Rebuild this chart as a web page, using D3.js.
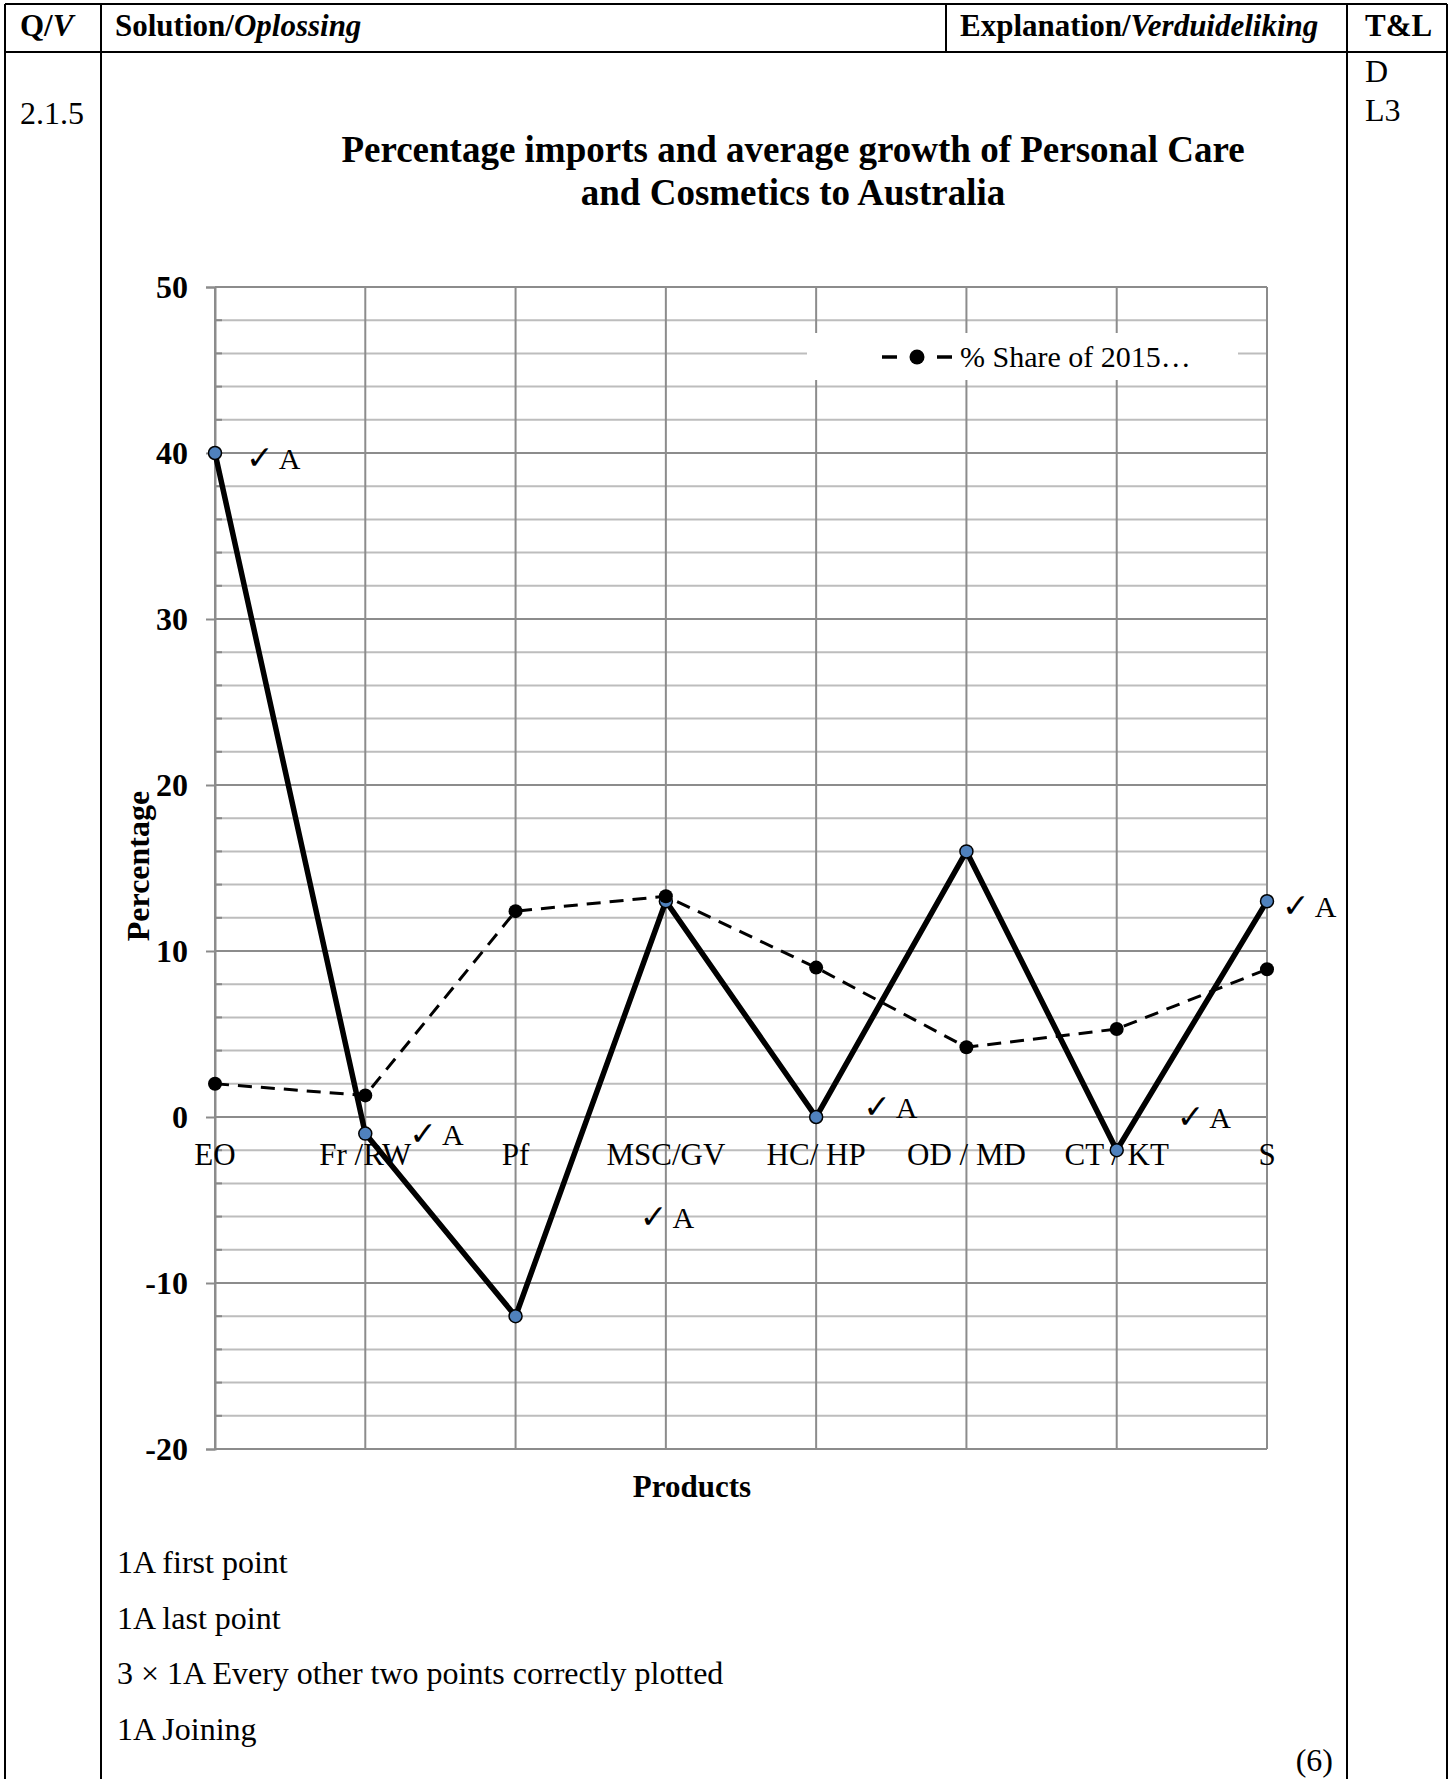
<!DOCTYPE html>
<html>
<head>
<meta charset="utf-8">
<script src="https://cdn.jsdelivr.net/npm/d3@7/dist/d3.min.js"></script>
<style>
  html, body { margin: 0; padding: 0; background: #fff; }
  svg { display: block; }
  text { font-family: "Liberation Serif", "Times New Roman", serif; fill: #000; }
</style>
</head>
<body>
<svg id="page" width="1455" height="1779"></svg>
<script>
// Product categories along the x axis
const categories = ["EO", "Fr /RW", "Pf", "MSC/GV", "HC/ HP", "OD / MD", "CT / KT", "S"];

// Average growth (%) — solid line with blue markers
const growth = [40, -1, -12, 13, 0, 16, -2, 13];

// % share of 2015 imports — dashed line with black markers
const share = [2, 1.3, 12.4, 13.3, 9, 4.2, 5.3, 8.9];

// Labelled y-axis values
const yTicks = [-20, -10, 0, 10, 20, 30, 40, 50];

// Marking ticks: category, value level, and which side of the point
const marks = [
  { cat: "EO", level: 39.7, shift: 31 },
  { cat: "Fr /RW", level: -1.0, shift: 44 },
  { cat: "MSC/GV", level: -6.0, shift: -26 },
  { cat: "HC/ HP", level: 0.6, shift: 47 },
  { cat: "CT / KT", level: 0.0, shift: 60 },
  { cat: "S", level: 12.7, shift: 15 }
];

// Marking memo lines under the graph
const memo = [
  "1A first point",
  "1A last point",
  "3 \u00d7 1A Every other two points correctly plotted",
  "1A Joining"
];

const svg = d3.select("#page");
const serif = '"Liberation Serif", "Times New Roman", serif';

// ---------- memo table frame ----------
const frame = svg.append("g").attr("stroke", "#000").attr("stroke-width", 2);
const tbl = { left: 5, right: 1447, top: 4, head: 52, c1: 101, c2: 946, c3: 1347, bottom: 1779 };
frame.append("line").attr("x1", tbl.left).attr("x2", tbl.right).attr("y1", tbl.top).attr("y2", tbl.top);
frame.append("line").attr("x1", tbl.left).attr("x2", tbl.right).attr("y1", tbl.head).attr("y2", tbl.head);
[tbl.left, tbl.c1, tbl.c3, tbl.right].forEach(x =>
  frame.append("line").attr("x1", x).attr("x2", x).attr("y1", tbl.top).attr("y2", tbl.bottom));
frame.append("line").attr("x1", tbl.c2).attr("x2", tbl.c2).attr("y1", tbl.top).attr("y2", tbl.head);

function header(x, parts) {
  const t = svg.append("text").attr("x", x).attr("y", 36)
    .attr("font-size", 31).attr("font-weight", "bold");
  parts.forEach(p => t.append("tspan").attr("font-style", p[1] ? "italic" : "normal").text(p[0]));
}
header(20, [["Q/", false], ["V", true]]);
header(115, [["Solution/", false], ["Oplossing", true]]);
header(960, [["Explanation/", false], ["Verduideliking", true]]);
header(1365, [["T&L", false]]);

svg.append("text").attr("x", 20).attr("y", 124).attr("font-size", 32).text("2.1.5");
svg.append("text").attr("x", 1365).attr("y", 82).attr("font-size", 32).text("D");
svg.append("text").attr("x", 1365).attr("y", 121).attr("font-size", 32).text("L3");

// ---------- chart title ----------
svg.append("text").attr("x", 793).attr("y", 162).attr("text-anchor", "middle")
  .attr("font-size", 37).attr("font-weight", "bold")
  .text("Percentage imports and average growth of Personal Care");
svg.append("text").attr("x", 793).attr("y", 205).attr("text-anchor", "middle")
  .attr("font-size", 37).attr("font-weight", "bold")
  .text("and Cosmetics to Australia");

// ---------- scales ----------
const plot = { left: 215, right: 1267, top: 287, bottom: 1449 };
const x = d3.scalePoint().domain(categories).range([plot.left, plot.right]);
const y = d3.scaleLinear().domain([-20, 50]).range([plot.bottom, plot.top]);

// ---------- gridlines ----------
const grid = svg.append("g");
const minor = d3.range(-20, 51, 2).filter(v => !yTicks.includes(v));
grid.selectAll("line.minor").data(minor).join("line")
  .attr("x1", plot.left).attr("x2", plot.right)
  .attr("y1", d => y(d)).attr("y2", d => y(d))
  .attr("stroke", "#bdbdbd").attr("stroke-width", 2);
grid.selectAll("line.mtick").data(minor).join("line")
  .attr("x1", plot.left).attr("x2", plot.left + 7)
  .attr("y1", d => y(d)).attr("y2", d => y(d))
  .attr("stroke", "#888").attr("stroke-width", 2);
grid.selectAll("line.vert").data(categories).join("line")
  .attr("x1", d => x(d)).attr("x2", d => x(d))
  .attr("y1", plot.top).attr("y2", plot.bottom)
  .attr("stroke", "#8c8c8c").attr("stroke-width", 2);
grid.selectAll("line.major").data(yTicks).join("line")
  .attr("x1", plot.left).attr("x2", plot.right)
  .attr("y1", d => y(d)).attr("y2", d => y(d))
  .attr("stroke", "#8c8c8c").attr("stroke-width", 2);

// y axis with bold labels and outward ticks (plain hyphen for negatives)
const yAxis = svg.append("g").attr("transform", `translate(${plot.left},0)`)
  .call(d3.axisLeft(y).tickValues(yTicks).tickSize(9).tickPadding(18).tickFormat(d => String(d)));
yAxis.select(".domain").attr("stroke", "#8c8c8c").attr("stroke-width", 2);
yAxis.selectAll(".tick line").attr("stroke", "#8c8c8c").attr("stroke-width", 2);
yAxis.selectAll(".tick text")
  .attr("font-family", serif).attr("font-size", 32).attr("font-weight", "bold").attr("fill", "#000");

// ---------- legend (white box over the grid) ----------
const lg = svg.append("g");
lg.append("rect").attr("x", 807).attr("y", 333).attr("width", 431).attr("height", 47).attr("fill", "#fff");
lg.append("line").attr("x1", 882).attr("x2", 897).attr("y1", 357).attr("y2", 357)
  .attr("stroke", "#000").attr("stroke-width", 3.5);
lg.append("line").attr("x1", 937).attr("x2", 952).attr("y1", 357).attr("y2", 357)
  .attr("stroke", "#000").attr("stroke-width", 3.5);
lg.append("circle").attr("cx", 917).attr("cy", 357).attr("r", 7.5).attr("fill", "#000");
lg.append("text").attr("x", 960).attr("y", 367).attr("font-size", 30).text("% Share of 2015\u2026");

// ---------- category labels (drawn over the grid) ----------
svg.append("g").selectAll("text").data(categories).join("text")
  .attr("x", d => x(d)).attr("y", y(0) + 48)
  .attr("text-anchor", "middle").attr("font-size", 31).text(d => d);

// ---------- series ----------
const line = d3.line().x((d, i) => x(categories[i])).y(d => y(d));

svg.append("path").datum(growth).attr("d", line)
  .attr("fill", "none").attr("stroke", "#000").attr("stroke-width", 5.5)
  .attr("stroke-linejoin", "miter");
svg.append("g").selectAll("circle").data(growth).join("circle")
  .attr("cx", (d, i) => x(categories[i])).attr("cy", d => y(d)).attr("r", 6.5)
  .attr("fill", "#4f81bd").attr("stroke", "#000").attr("stroke-width", 1.5);

svg.append("path").datum(share).attr("d", line)
  .attr("fill", "none").attr("stroke", "#000").attr("stroke-width", 3)
  .attr("stroke-dasharray", "14,9");
svg.append("g").selectAll("circle").data(share).join("circle")
  .attr("cx", (d, i) => x(categories[i])).attr("cy", d => y(d)).attr("r", 7)
  .attr("fill", "#000");

// ---------- marking ticks ----------
const mk = svg.append("g").selectAll("text").data(marks).join("text")
  .attr("x", d => x(d.cat) + d.shift).attr("y", d => y(d.level) + 11)
  .attr("font-size", 30);
mk.append("tspan").attr("font-family", "DejaVu Sans").attr("font-size", 33)
  .attr("font-weight", "bold").text("\u2713");
mk.append("tspan").attr("dx", 5).text("A");

// ---------- axis titles ----------
svg.append("text").attr("transform", "translate(149,866) rotate(-90)")
  .attr("text-anchor", "middle").attr("font-size", 32).attr("font-weight", "bold").text("Percentage");
svg.append("text").attr("x", 692).attr("y", 1497).attr("text-anchor", "middle")
  .attr("font-size", 31).attr("font-weight", "bold").text("Products");

// ---------- memo notes ----------
svg.append("g").selectAll("text").data(memo).join("text")
  .attr("x", 117).attr("y", (d, i) => 1573 + i * 55.5)
  .attr("font-size", 32).text(d => d);
svg.append("text").attr("x", 1333).attr("y", 1771).attr("text-anchor", "end")
  .attr("font-size", 32).text("(6)");
</script>
</body>
</html>
